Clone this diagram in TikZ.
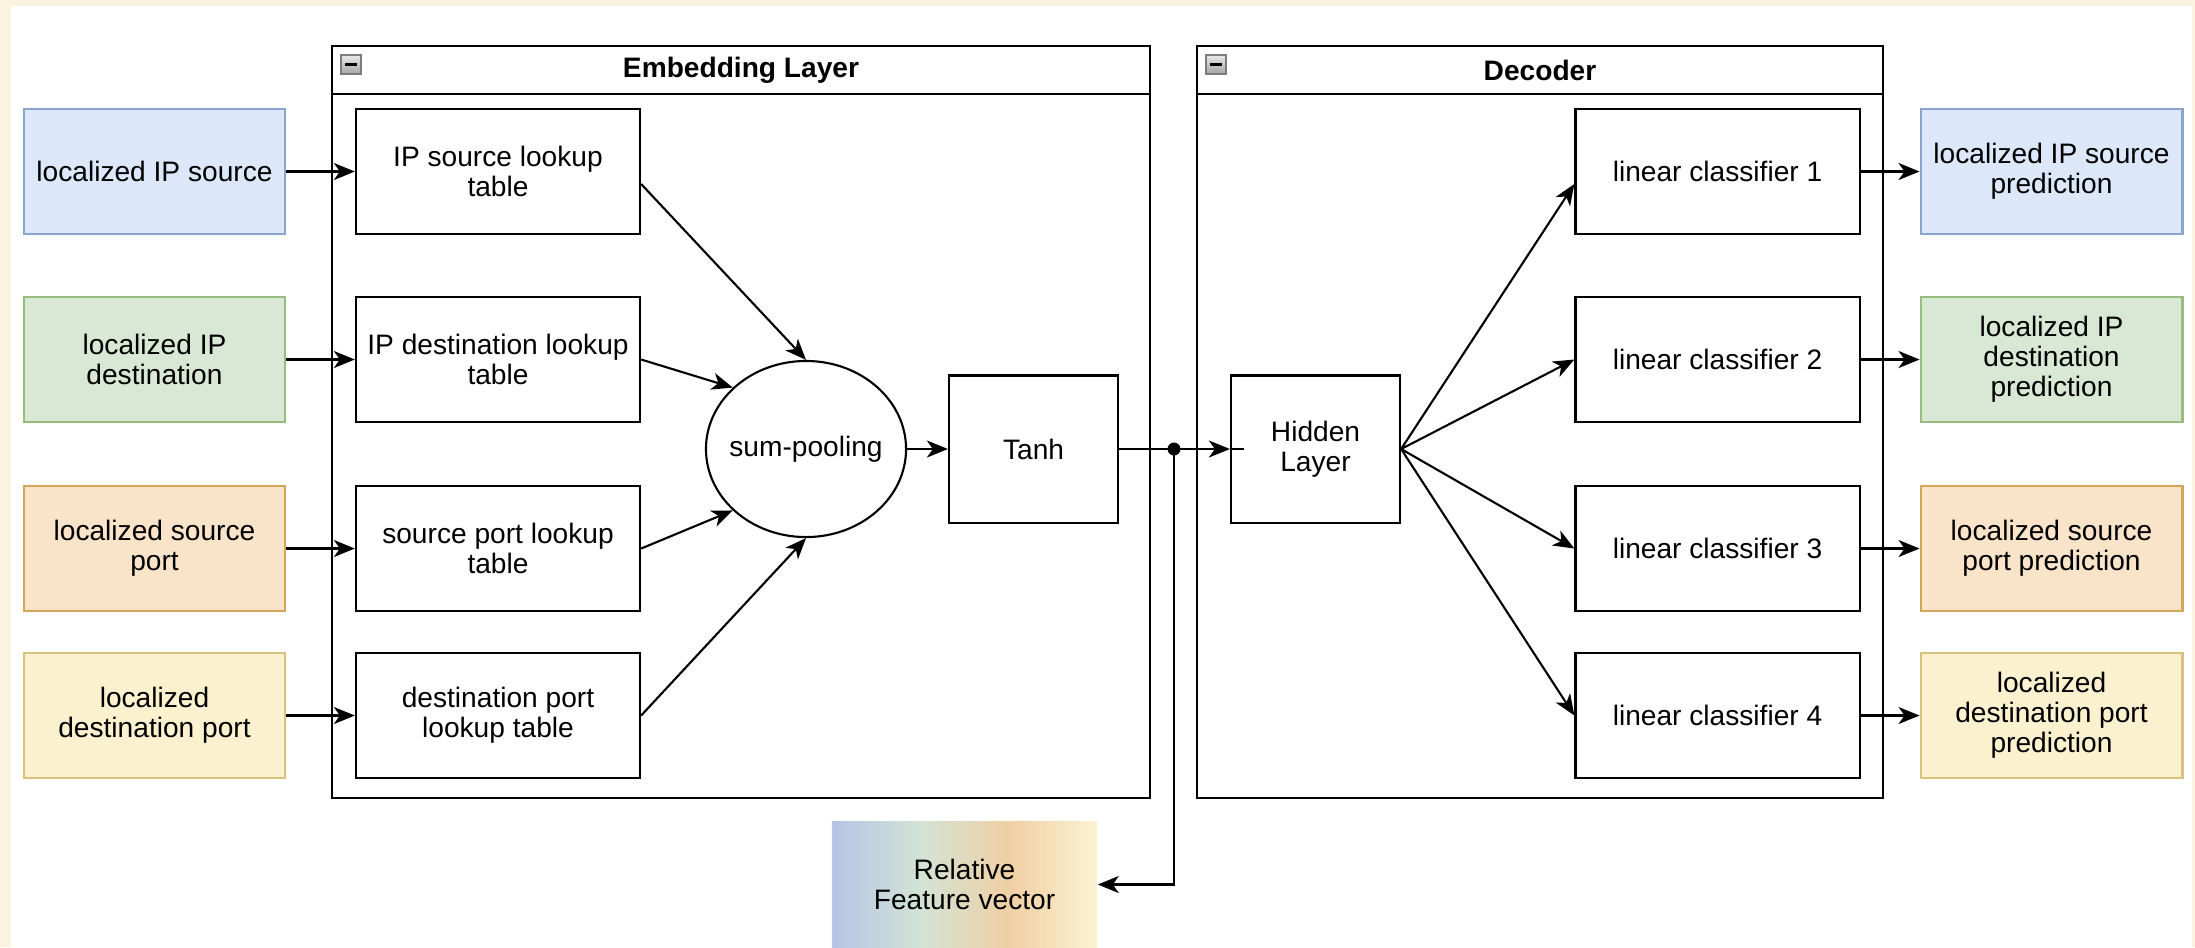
\documentclass[tikz,border=0pt]{standalone}
\usepackage{fontspec}
\setmainfont{Liberation Sans}
\usetikzlibrary{arrows.meta,shapes.geometric,calc}

\definecolor{paper}{HTML}{FBF2E0}
\definecolor{bluefill}{HTML}{DCE7FA}
\definecolor{bluedraw}{HTML}{8BA3CF}
\definecolor{greenfill}{HTML}{D8E8D5}
\definecolor{greendraw}{HTML}{96BC7E}
\definecolor{orangefill}{HTML}{F9E4C9}
\definecolor{orangedraw}{HTML}{D3A65A}
\definecolor{yellowfill}{HTML}{FCF1CF}
\definecolor{yellowdraw}{HTML}{D8C27C}
\definecolor{gbA}{HTML}{B6C4E6}
\definecolor{gbB}{HTML}{D2E3D6}
\definecolor{gbC}{HTML}{F0CFA4}
\definecolor{gbD}{HTML}{FBF3D3}
\definecolor{iconlight}{HTML}{EAEAEA}
\definecolor{icondark}{HTML}{A4A4A4}
\definecolor{iconedge}{HTML}{7C7C7C}

% horizontal colour ramp for the feature vector box (path maps onto 25bp..75bp)
\pgfdeclarehorizontalshading{fvramp}{100bp}{%
  color(0bp)=(gbA); color(25bp)=(gbA); color(41.5bp)=(gbB);
  color(58.5bp)=(gbC); color(75bp)=(gbD); color(100bp)=(gbD)}

\tikzset{
  lbl/.style={font=\fontsize{8pt}{8.5pt}\selectfont},
  plain/.style={lbl, draw=black, line width=0.6pt, fill=white, align=center,
    inner sep=0pt, minimum height=1.25cm},
  lookupbox/.style={plain, minimum width=2.84cm},
  smallbox/.style={plain, minimum width=1.69cm, minimum height=1.47cm},
  colbox/.style={lbl, line width=0.8pt, align=center, inner sep=0pt,
    minimum width=2.61cm, minimum height=1.25cm},
  bluebox/.style={colbox, draw=bluedraw, fill=bluefill},
  greenbox/.style={colbox, draw=greendraw, fill=greenfill},
  orangebox/.style={colbox, draw=orangedraw, fill=orangefill},
  yellowbox/.style={colbox, draw=yellowdraw, fill=yellowfill},
  frame/.style={draw=black, line width=0.6pt},
  title/.style={font=\fontsize{8pt}{8.5pt}\selectfont\bfseries},
  arr/.style={line width=0.6pt, -{Stealth[length=0.21cm, width=0.17cm, inset=0.06cm]}},
}

\begin{document}
\begin{tikzpicture}[x=0.01cm, y=-0.01cm]
  % page
  \fill[paper] (0,0) rectangle (2195,947);
  \fill[white] (11,6) rectangle (2192,947);
  \useasboundingbox (0,0) rectangle (2195,947);

  % group frames with header bars
  \draw[frame] (332,46) rectangle (1150,798);
  \draw[frame] (332,94) -- (1150,94);
  \draw[frame] (1197,46) rectangle (1883,798);
  \draw[frame] (1197,94) -- (1883,94);
  \foreach \cx in {332,1197} {
    \shade[top color=iconlight, bottom color=icondark, draw=iconedge, line width=0.4pt]
      (\cx+9,55) rectangle (\cx+29,74);
    \draw[line width=1.1pt] (\cx+13,64.5) -- (\cx+25,64.5);
  }
  \node[title] (embt) at (741,70) {Embedding Layer};
  \node[title] (dect) at (1540,70) {Decoder};

  % inputs
  \node[bluebox]   (in1) at (154.5,171.5) {localized IP source};
  \node[greenbox]  (in2) at (154.5,359.5) {localized IP\\destination};
  \node[orangebox] (in3) at (154.5,548.5) {localized source\\port};
  \node[yellowbox] (in4) at (154.5,715.5) {localized\\destination port};

  % lookup tables
  \node[lookupbox] (l1) at (498,171.5) {IP source lookup\\table};
  \node[lookupbox] (l2) at (498,359.5) {IP destination lookup\\table};
  \node[lookupbox] (l3) at (498,548.5) {source port lookup\\table};
  \node[lookupbox] (l4) at (498,715.5) {destination port\\lookup table};

  % pooling and activation
  \node[lbl, ellipse, draw=black, line width=0.6pt, fill=white, inner sep=0pt,
        minimum width=2cm, minimum height=1.76cm] (sp) at (806,449)
        {\makebox[0pt]{sum-pooling}};
  \node[smallbox] (tanh) at (1033.5,449) {Tanh};

  % decoder
  \node[smallbox] (hid) at (1315.5,449) {Hidden\\Layer};
  \node[lookupbox] (c1) at (1717.5,171.5) {linear classifier 1};
  \node[lookupbox] (c2) at (1717.5,359.5) {linear classifier 2};
  \node[lookupbox] (c3) at (1717.5,548.5) {linear classifier 3};
  \node[lookupbox] (c4) at (1717.5,715.5) {linear classifier 4};

  % outputs
  \node[bluebox]   (o1) at (2051.5,171.5) {localized IP source\\prediction};
  \node[greenbox]  (o2) at (2051.5,359.5) {localized IP\\destination\\prediction};
  \node[orangebox] (o3) at (2051.5,548.5) {localized source\\port prediction};
  \node[yellowbox] (o4) at (2051.5,715.5) {localized\\destination port\\prediction};

  % feature vector
  \node[lbl, shade, shading=fvramp, align=center, inner sep=0pt,
        minimum width=2.65cm, minimum height=1.25cm] (fv) at (964.5,884.5)
        {Relative\\Feature vector};

  % connectors
  \foreach \i in {1,...,4} {
    \draw[arr] (in\i.east) -- (l\i.west);
    \draw[arr] (c\i.east) -- (o\i.west);
  }
  \draw[arr] ($(l1.east)+(0,12.5)$) -- (sp.north);
  \draw[arr] (l2.east) -- (sp.140);
  \draw[arr] (l3.east) -- (sp.220);
  \draw[arr] (l4.east) -- (sp.south);
  \draw[arr] (sp.east) -- (tanh.west);

  \coordinate (j) at (1174,449);
  \draw[arr] (tanh.east) -- (hid.west);
  \draw[line width=0.6pt] (hid.west) -- ++(14,0);
  \fill (j) circle[radius=0.065cm];
  \draw[arr] (j) |- (fv.east);

  \draw[arr] (hid.east) -- ($(c1.west)+(0,12.5)$);
  \draw[arr] (hid.east) -- (c2.west);
  \draw[arr] (hid.east) -- (c3.west);
  \draw[arr] (hid.east) -- (c4.west);
\end{tikzpicture}
\end{document}
